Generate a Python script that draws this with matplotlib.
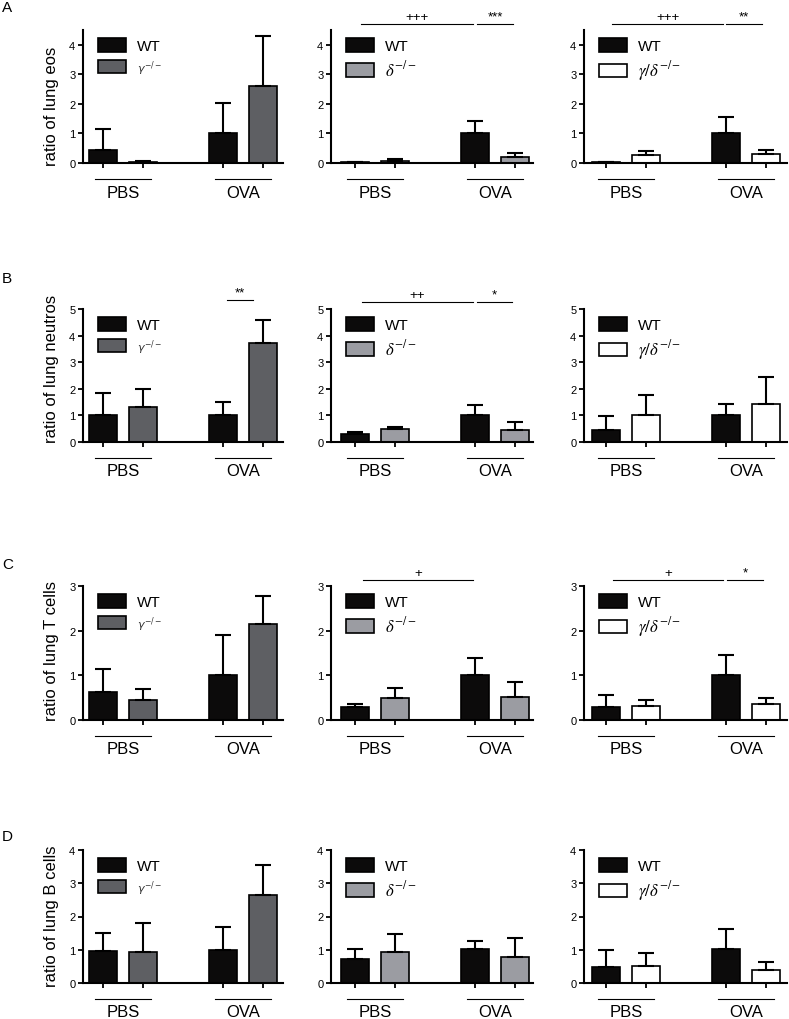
import matplotlib
matplotlib.use('Agg')
import matplotlib.pyplot as plt
from matplotlib.patches import Patch

plt.rcParams['font.family'] = ['Liberation Sans', 'DejaVu Sans']

# ---------------- data ----------------
groups = ['PBS', 'OVA']
genotypes_col1 = ['WT', r'$\gamma^{-/-}$']
genotypes_col2 = ['WT', r'$\delta^{-/-}$']
genotypes_col3 = ['WT', r'$\gamma/\delta^{-/-}$']
row_letters = ['A', 'B', 'C', 'D']
row_ylabels = ['ratio of lung eos', 'ratio of lung neutros',
               'ratio of lung T cells', 'ratio of lung B cells']
row_ymax = [4.5, 5, 3, 4]
row_yticks = [[0, 1, 2, 3, 4], [0, 1, 2, 3, 4, 5], [0, 1, 2, 3], [0, 1, 2, 3, 4]]

# order of bars: WT PBS, KO PBS, WT OVA, KO OVA
A1_means = [0.45, 0.05, 1.00, 2.60]
A1_errs = [0.70, 0.02, 1.03, 1.71]
A2_means = [0.02, 0.08, 1.00, 0.20]
A2_errs = [0.01, 0.07, 0.42, 0.15]
A3_means = [0.03, 0.26, 1.00, 0.31]
A3_errs = [0.02, 0.13, 0.57, 0.14]

B1_means = [1.00, 1.33, 1.00, 3.71]
B1_errs = [0.83, 0.67, 0.49, 0.89]
B2_means = [0.31, 0.48, 1.02, 0.45]
B2_errs = [0.06, 0.10, 0.36, 0.30]
B3_means = [0.45, 1.02, 1.00, 1.41]
B3_errs = [0.52, 0.73, 0.44, 1.05]

C1_means = [0.63, 0.45, 1.01, 2.14]
C1_errs = [0.51, 0.25, 0.90, 0.64]
C2_means = [0.29, 0.49, 1.01, 0.51]
C2_errs = [0.06, 0.22, 0.37, 0.35]
C3_means = [0.28, 0.32, 1.00, 0.35]
C3_errs = [0.29, 0.13, 0.46, 0.14]

D1_means = [0.95, 0.93, 1.00, 2.65]
D1_errs = [0.55, 0.88, 0.67, 0.90]
D2_means = [0.71, 0.93, 1.01, 0.78]
D2_errs = [0.30, 0.53, 0.25, 0.57]
D3_means = [0.48, 0.50, 1.01, 0.38]
D3_errs = [0.51, 0.41, 0.60, 0.25]

# significance annotations: (x_start, x_end, y, text)
A2_sig = [(0.15, 2.95, 4.70, '+++'), (3.05, 3.95, 4.70, '***')]
A3_sig = [(0.15, 2.93, 4.70, '+++'), (3.00, 3.90, 4.70, '**')]
B1_sig = [(3.10, 3.76, 5.34, '**')]
B2_sig = [(0.17, 2.95, 5.26, '++'), (3.05, 3.93, 5.26, '*')]
C2_sig = [(0.20, 2.95, 3.13, '+')]
C3_sig = [(0.17, 2.93, 3.13, '+'), (3.03, 3.93, 3.13, '*')]

means = [[A1_means, A2_means, A3_means], [B1_means, B2_means, B3_means],
         [C1_means, C2_means, C3_means], [D1_means, D2_means, D3_means]]
errs = [[A1_errs, A2_errs, A3_errs], [B1_errs, B2_errs, B3_errs],
        [C1_errs, C2_errs, C3_errs], [D1_errs, D2_errs, D3_errs]]
sigs = [[[], A2_sig, A3_sig], [B1_sig, B2_sig, []], [[], C2_sig, C3_sig], [[], [], []]]
labels = [genotypes_col1, genotypes_col2, genotypes_col3]

# ---------------- style / layout ----------------
W, H = 789, 1020
fig = plt.figure(figsize=(W / 100, H / 100), dpi=100)

wt_color = '#0c0b0b'
ko_colors = ['#5e5f63', '#9b9ca2', '#ffffff']
x_pos = [0, 1, 3, 4]
bar_w = 0.7
px_per_unit = 40.0
col_left = [83, 331, 584]
col_xlim = [(-0.5, 4.5), (-0.6, 4.45), (-0.55, 4.52)]
row_top = [31, 310, 587, 851]
row_bottom = [164, 443, 721, 984]
ylabel_pos = [0.43, 0.555, 0.52, 0.51]
letter_y = [8, 279, 565, 837]

for r in range(4):
    fig.text(2 / W, 1 - letter_y[r] / H, row_letters[r], fontsize=11,
             ha='left', va='center')
    for c in range(3):
        xl = col_xlim[c]
        wpx = (xl[1] - xl[0]) * px_per_unit
        hpx = row_bottom[r] - row_top[r]
        ax = fig.add_axes([col_left[c] / W, 1 - row_bottom[r] / H, wpx / W, hpx / H])
        cols = [wt_color, ko_colors[c], wt_color, ko_colors[c]]
        ax.bar(x_pos, means[r][c], width=bar_w, color=cols, edgecolor='black',
               linewidth=1.2, zorder=2)
        ax.errorbar(x_pos, means[r][c], yerr=[[0] * 4, errs[r][c]], fmt='none',
                    ecolor='black', elinewidth=1.5, capsize=5.5, capthick=1.5,
                    zorder=3)
        ax.set_xlim(*xl)
        ax.set_ylim(0, row_ymax[r])
        ax.set_yticks(row_yticks[r])
        ax.set_xticks(x_pos)
        ax.set_xticklabels([])
        for s in ['top', 'right']:
            ax.spines[s].set_visible(False)
        for s in ['left', 'bottom']:
            ax.spines[s].set_linewidth(1.5)
        ax.tick_params(axis='both', width=1.3, length=3.5, labelsize=8, pad=2)
        ax.patch.set_alpha(0)

        # group labels below axis
        for gi, g in enumerate(groups):
            cx = 0.5 + 3 * gi
            ax.plot([cx - 0.69, cx + 0.69], [-16 / hpx, -16 / hpx], color='black',
                    lw=0.8, transform=ax.get_xaxis_transform(), clip_on=False)
            ax.text(cx, -29 / hpx, g, fontsize=12, ha='center', va='center',
                    transform=ax.get_xaxis_transform())

        # significance bars
        for (x1, x2, y, t) in sigs[r][c]:
            ax.plot([x1, x2], [y, y], color='black', lw=0.8, clip_on=False)
            ax.text((x1 + x2) / 2, y + 0.01 * row_ymax[r], t, fontsize=9.5,
                    ha='center', va='bottom', clip_on=False)

        # legend
        handles = [Patch(facecolor=wt_color, edgecolor='black', linewidth=1.2),
                   Patch(facecolor=ko_colors[c], edgecolor='black', linewidth=1.2)]
        leg = ax.legend(handles, labels[c], loc='upper left',
                        bbox_to_anchor=(15 / wpx, 1 - 8 / hpx), frameon=False,
                        fontsize=11, handlelength=1.85, handleheight=1.0,
                        handletextpad=0.7, labelspacing=0.35, borderpad=0,
                        borderaxespad=0)
        t2 = leg.get_texts()[1]
        if c == 0:
            t2.set_fontsize(8)
            t2.set_color('#333333')
            t2.set_math_fontfamily('dejavusans')
        else:
            t2.set_fontsize(12)
            t2.set_math_fontfamily('stix')

        if c == 0:
            ax.set_ylabel(row_ylabels[r], fontsize=12)
            ax.yaxis.set_label_coords(-24 / wpx, ylabel_pos[r])

fig.savefig('out.png', dpi=100)
